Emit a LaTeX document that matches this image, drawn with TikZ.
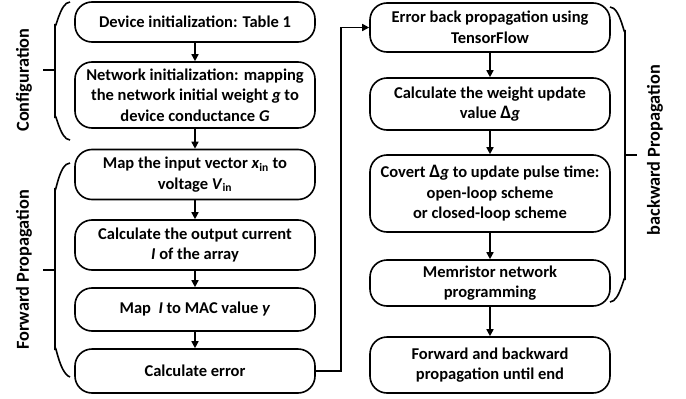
\documentclass[tikz,border=0pt]{standalone}
\usepackage{fontspec}
\setmainfont{Carlito}
\usetikzlibrary{arrows.meta}
\tikzset{
  box/.style={draw, line width=1.6pt, rounded corners=17pt, minimum width=240pt, align=center,
    font=\fontsize{16.5}{20.5}\selectfont\bfseries, inner sep=1pt},
  arr/.style={line width=1.6pt, -{Triangle[length=7pt,width=7pt]}},
  brace/.style={line width=1.6pt},
  side/.style={rotate=90, font=\fontsize{18.3}{20}\selectfont\bfseries}
}
\newcommand{\dlt}{{\fontsize{19}{20}\selectfont Δ}}
\begin{document}
\begin{tikzpicture}[x=1pt,y=-1pt]
\useasboundingbox (0,0) rectangle (686,399);
% left column
\node[box, minimum height=40pt] (l1) at (195,22) {Device initialization: Table 1};
\node[box, minimum height=66pt] (l2) at (195,95) {Network initialization: mapping\\the network initial weight \textit{g} to\\device conductance \textit{G}};
\node[box, minimum height=50pt] (l3) at (195,174.5) {Map the input vector \textit{x}\textsubscript{in} to\\voltage \textit{V}\textsubscript{in}};
\node[box, minimum height=50pt] (l4) at (195,245) {Calculate the output current\\\textit{I} of the array};
\node[box, minimum height=43pt] (l5) at (195,309.5) {Map\ \ \textit{I} to MAC value \textit{y}};
\node[box, minimum height=44pt] (l6) at (195,371) {Calculate error};
% right column
\node[box, minimum height=49pt] (r1) at (490,27.5) {Error back propagation using\\TensorFlow};
\node[box, minimum height=52pt] (r2) at (490,104) {Calculate the weight update\\value \dlt\textit{g}};
\node[box, minimum height=77pt] (r3) at (490,193.5) {Covert \dlt\textit{g} to update pulse time:\\open-loop scheme\\or closed-loop scheme};
\node[box, minimum height=46pt] (r4) at (490,283) {Memristor network\\programming};
\node[box, minimum height=56pt] (r5) at (490,365) {Forward and backward\\propagation until end};
% arrows
\draw[arr] (l1) -- (l2);
\draw[arr] (l2) -- (l3);
\draw[arr] (l3) -- (l4);
\draw[arr] (l4) -- (l5);
\draw[arr] (l5) -- (l6);
\draw[arr] (r1) -- (r2);
\draw[arr] (r2) -- (r3);
\draw[arr] (r3) -- (r4);
\draw[arr] (r4) -- (r5);
\coordinate (c1) at (341,371);
\coordinate (c2) at (341,27.5);
\draw[arr] (l6.east) -- (c1) -- (c2) -- (r1.west);
% braces
\draw[brace] (70,2) to[out=180,in=-90] (55,24) -- (55,118) to[out=90,in=180] (70,140);
\draw[brace] (55,70) -- (43,70);
\draw[brace] (70,163) to[out=180,in=-90] (55,188) -- (55,350) to[out=90,in=160] (70,377);
\draw[brace] (55,270) -- (43,270);
\draw[brace] (610,7) to[out=0,in=-90] (625,30) -- (625,280) to[out=90,in=0] (610,302);
\draw[brace] (625,155) -- (637,155);
% side labels
\node[side] (t1) at (24,80) {Configuration};
\node[side] (t2) at (24,270) {Forward Propagation};
\node[side] (t3) at (655,150) {backward Propagation};
\end{tikzpicture}
\end{document}
